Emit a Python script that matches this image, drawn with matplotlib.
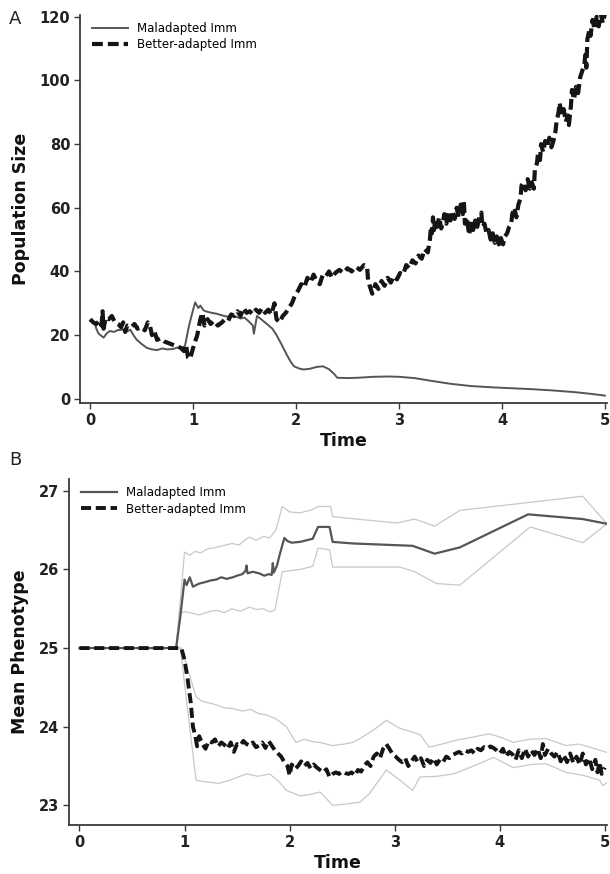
import matplotlib
matplotlib.use('Agg')
from matplotlib import pyplot as plt

# ---------------- panel A data ----------------
mal_a_t = [0.00, 0.04, 0.06, 0.08, 0.10, 0.13, 0.16, 0.19, 0.23, 0.27, 0.32, 0.36, 0.39, 0.42,
           0.45, 0.50, 0.55, 0.60, 0.65, 0.70, 0.75, 0.81, 0.86, 0.89, 0.92, 0.96, 1.00, 1.02,
           1.05, 1.07, 1.10, 1.13, 1.18, 1.23, 1.28, 1.33, 1.38, 1.46, 1.50, 1.55, 1.58, 1.59,
           1.62, 1.66, 1.72, 1.77, 1.81, 1.86, 1.91, 1.95, 1.98, 2.03, 2.07, 2.13, 2.20, 2.26,
           2.32, 2.37, 2.40, 2.50, 2.60, 2.75, 2.90, 3.00, 3.15, 3.30, 3.50, 3.70, 3.90, 4.10,
           4.30, 4.50, 4.70, 4.85, 5.00]
mal_a_y = [24.5, 24.0, 22.0, 20.5, 20.0, 19.2, 20.5, 21.3, 21.0, 21.6, 21.7, 21.2, 21.7, 20.0,
           18.6, 17.2, 16.0, 15.5, 15.3, 15.8, 15.5, 15.7, 16.2, 16.0, 16.5, 23.0, 28.0, 30.3,
           28.5, 29.3, 27.8, 27.4, 27.0, 26.7, 26.2, 25.8, 26.3, 25.2, 25.5, 24.0, 23.0, 20.4,
           26.0, 25.0, 23.4, 22.0, 20.0, 17.0, 13.8, 11.5, 10.2, 9.5, 9.2, 9.4, 10.0, 10.2,
           9.3, 7.8, 6.6, 6.5, 6.6, 6.9, 7.0, 6.9, 6.5, 5.7, 4.7, 4.0, 3.6, 3.3,
           3.0, 2.6, 2.1, 1.6, 1.0]

bet_a_t = [0.00, 0.03, 0.06, 0.09, 0.11, 0.12, 0.13, 0.15, 0.18, 0.21, 0.24, 0.27, 0.30, 0.32,
           0.34, 0.36, 0.40, 0.43, 0.46, 0.50, 0.53, 0.56, 0.58, 0.60, 0.62, 0.65, 0.68, 0.72,
           0.76, 0.80, 0.84, 0.88, 0.91, 0.93, 0.95, 0.97, 1.00, 1.04, 1.07, 1.09, 1.11, 1.14,
           1.17, 1.20, 1.24, 1.28, 1.31, 1.34, 1.37, 1.40, 1.43, 1.46, 1.49, 1.52, 1.55, 1.58,
           1.61, 1.64, 1.67, 1.70, 1.73, 1.76, 1.79, 1.81, 1.84, 1.87, 1.90, 1.93, 1.96, 1.99,
           2.02, 2.05, 2.08, 2.11, 2.14, 2.17, 2.20, 2.23, 2.26, 2.29, 2.32, 2.35, 2.38, 2.42,
           2.46, 2.50, 2.54, 2.58, 2.62, 2.66, 2.69, 2.70, 2.72, 2.74, 2.77, 2.80, 2.83, 2.86,
           2.89, 2.92, 2.95, 2.98, 3.01, 3.04, 3.07, 3.10, 3.13, 3.16, 3.19, 3.22, 3.25, 3.28,
           3.30, 3.31, 3.32, 3.33, 3.34, 3.35, 3.37, 3.39, 3.41, 3.43, 3.44, 3.46, 3.48, 3.50,
           3.52, 3.54, 3.56, 3.58, 3.60, 3.62, 3.63, 3.64, 3.66, 3.68, 3.70, 3.72, 3.74, 3.76,
           3.78, 3.80, 3.81, 3.83, 3.85, 3.87, 3.89, 3.91, 3.93, 3.95, 3.97, 3.99, 4.01, 4.03,
           4.05, 4.07, 4.09, 4.10, 4.12, 4.14, 4.16, 4.18, 4.19, 4.21, 4.23, 4.25, 4.27, 4.29,
           4.31, 4.32, 4.34, 4.35, 4.37, 4.38, 4.40, 4.42, 4.44, 4.46, 4.48, 4.50, 4.52, 4.53,
           4.55, 4.56, 4.58, 4.60, 4.62, 4.64, 4.65, 4.67, 4.68, 4.70, 4.72, 4.74, 4.76, 4.78,
           4.80, 4.81, 4.82, 4.83, 4.85, 4.86, 4.88, 4.90, 4.92, 4.94, 4.96, 4.98, 5.00]
bet_a_y = [25.0, 24.0, 23.5, 24.5, 23.0, 27.5, 22.0, 25.5, 25.0, 26.0, 24.0, 23.5, 22.5, 24.0,
           21.0, 23.0, 22.5, 23.5, 22.0, 22.5, 21.5, 24.0, 23.0, 20.0, 21.5, 18.5, 19.0, 18.0,
           17.5, 17.0, 16.5, 16.0, 15.0, 17.0, 13.0, 12.5, 16.0, 20.0, 25.0, 27.0, 23.0, 25.0,
           23.5, 24.5, 23.0, 24.0, 25.0, 24.5, 26.5, 26.0, 27.5, 26.0, 28.5, 27.0, 27.5, 26.5,
           28.0, 27.0, 28.5, 27.0, 28.0, 26.5, 30.0, 25.0, 24.0, 26.0, 27.0, 28.5, 30.0, 32.5,
           34.0, 36.0, 35.0, 38.0, 36.5, 39.0, 37.0, 36.0, 39.0, 38.5, 40.0, 38.0, 39.5, 40.5,
           39.5, 41.0, 40.0, 41.5, 40.5, 42.0, 41.5, 37.0, 35.0, 33.0, 36.0, 34.5, 37.0, 35.5,
           38.0, 36.5, 38.5, 37.5, 39.5, 39.0, 42.0, 41.0, 43.5, 42.5, 45.0, 44.0, 47.0, 46.0,
           50.0, 54.0, 52.0, 57.0, 53.0, 56.0, 54.0, 57.0, 53.5, 56.0, 58.0, 55.0, 58.5, 56.0,
           59.0, 56.5, 60.0, 57.0, 61.0, 58.0, 62.0, 55.0, 57.0, 51.5, 55.0, 53.0, 56.0, 54.0,
           57.0, 58.5, 54.0, 55.0, 52.0, 53.0, 50.0, 52.0, 49.0, 51.0, 48.5, 50.5, 48.5, 51.0,
           52.0, 54.0, 55.0, 58.0, 60.0, 57.0, 61.0, 63.0, 67.0, 68.0, 65.5, 69.0, 66.0, 68.0,
           66.0, 72.0, 74.0, 77.0, 75.0, 80.0, 77.5, 81.0, 79.0, 82.0, 79.0, 81.0, 84.0, 87.0,
           90.0, 93.0, 89.0, 91.0, 87.0, 89.0, 86.0, 92.0, 97.0, 94.0, 98.0, 96.0, 101.0, 103.0,
           105.0, 108.0, 104.0, 113.0, 116.0, 114.0, 119.0, 116.0, 120.0, 117.0, 121.0, 118.0, 121.0]

# ---------------- panel B data ----------------
mal_b_t = [0.00, 0.92, 0.96, 1.00, 1.02, 1.05, 1.08, 1.11, 1.14, 1.20, 1.25, 1.30, 1.35, 1.40,
           1.46, 1.50, 1.55, 1.58, 1.59, 1.60, 1.65, 1.71, 1.76, 1.80, 1.83, 1.84, 1.85, 1.88,
           1.90, 1.95, 1.98, 2.02, 2.10, 2.22, 2.27, 2.38, 2.41, 2.60, 3.17, 3.38, 3.62, 4.27,
           4.79, 5.02]
mal_b_y = [25.0, 25.0, 25.4, 25.87, 25.8, 25.9, 25.78, 25.8, 25.82, 25.84, 25.86, 25.87, 25.9, 25.88,
           25.9, 25.92, 25.94, 25.98, 26.05, 25.95, 25.97, 25.95, 25.92, 25.94, 25.93, 26.08, 25.96, 26.05,
           26.16, 26.4, 26.36, 26.34, 26.35, 26.39, 26.54, 26.54, 26.35, 26.33, 26.30, 26.2, 26.28, 26.7,
           26.64, 26.58]

mal_hi_t = [0.00, 0.92, 1.00, 1.05, 1.10, 1.15, 1.22, 1.30, 1.36, 1.45, 1.52, 1.58, 1.62, 1.68,
            1.75, 1.81, 1.87, 1.93, 2.00, 2.10, 2.22, 2.27, 2.39, 2.41, 3.02, 3.19, 3.38, 3.62,
            4.79, 5.02]
mal_hi_y = [25.0, 25.0, 26.22, 26.18, 26.23, 26.21, 26.26, 26.28, 26.3, 26.33, 26.31, 26.38, 26.41, 26.37,
            26.42, 26.4, 26.5, 26.8, 26.73, 26.72, 26.76, 26.8, 26.8, 26.67, 26.59, 26.64, 26.55, 26.75,
            26.93, 26.58]
mal_lo_t = [0.00, 0.92, 0.95, 1.02, 1.08, 1.14, 1.22, 1.30, 1.38, 1.45, 1.53, 1.62, 1.68, 1.75,
            1.81, 1.86, 1.93, 2.10, 2.22, 2.27, 2.38, 2.41, 3.05, 3.19, 3.40, 3.62, 4.29, 4.79,
            5.02]
mal_lo_y = [25.0, 25.0, 25.45, 25.46, 25.44, 25.42, 25.46, 25.48, 25.45, 25.5, 25.47, 25.52, 25.49, 25.5,
            25.46, 25.48, 25.97, 26.0, 26.04, 26.27, 26.25, 26.03, 26.03, 25.97, 25.82, 25.8, 26.54, 26.34,
            26.58]

bet_b_t = [0.00, 0.97, 1.00, 1.03, 1.06, 1.08, 1.10, 1.12, 1.14, 1.17, 1.20, 1.23, 1.26, 1.29,
           1.32, 1.35, 1.38, 1.41, 1.44, 1.47, 1.50, 1.53, 1.56, 1.59, 1.62, 1.65, 1.68, 1.71,
           1.74, 1.77, 1.80, 1.83, 1.86, 1.89, 1.92, 1.95, 1.98, 2.00, 2.02, 2.05, 2.08, 2.11,
           2.14, 2.17, 2.20, 2.23, 2.26, 2.29, 2.32, 2.35, 2.38, 2.41, 2.44, 2.47, 2.50, 2.53,
           2.56, 2.59, 2.62, 2.65, 2.68, 2.71, 2.74, 2.77, 2.80, 2.83, 2.86, 2.89, 2.92, 2.95,
           2.98, 3.01, 3.04, 3.07, 3.10, 3.13, 3.16, 3.19, 3.22, 3.25, 3.28, 3.31, 3.34, 3.37,
           3.40, 3.43, 3.46, 3.49, 3.52, 3.55, 3.58, 3.61, 3.64, 3.67, 3.70, 3.73, 3.76, 3.79,
           3.82, 3.85, 3.88, 3.91, 3.94, 3.97, 4.00, 4.03, 4.06, 4.09, 4.12, 4.15, 4.18, 4.21,
           4.24, 4.27, 4.30, 4.33, 4.36, 4.39, 4.41, 4.43, 4.46, 4.49, 4.52, 4.55, 4.58, 4.61,
           4.64, 4.67, 4.70, 4.73, 4.76, 4.79, 4.82, 4.85, 4.88, 4.91, 4.93, 4.95, 4.97, 5.00]
bet_b_y = [25.0, 25.0, 24.85, 24.6, 24.3, 24.0, 23.9, 23.75, 23.88, 23.78, 23.72, 23.82, 23.8, 23.84,
           23.75, 23.8, 23.77, 23.72, 23.8, 23.68, 23.78, 23.76, 23.82, 23.78, 23.76, 23.8, 23.74, 23.76,
           23.8, 23.73, 23.82, 23.76, 23.7, 23.66, 23.62, 23.55, 23.5, 23.38, 23.52, 23.46, 23.5, 23.56,
           23.5, 23.54, 23.47, 23.52, 23.48, 23.45, 23.42, 23.46, 23.36, 23.4, 23.42, 23.4, 23.43, 23.41,
           23.4, 23.42, 23.38, 23.45, 23.43, 23.5, 23.55, 23.5, 23.62, 23.66, 23.6, 23.72, 23.78, 23.72,
           23.65, 23.62, 23.58, 23.55, 23.6, 23.5, 23.56, 23.62, 23.55, 23.6, 23.5, 23.58, 23.54, 23.6,
           23.52, 23.58, 23.55, 23.62, 23.6, 23.64, 23.66, 23.68, 23.66, 23.7, 23.68, 23.7, 23.66, 23.72,
           23.7, 23.74, 23.72, 23.75, 23.73, 23.7, 23.66, 23.72, 23.62, 23.68, 23.65, 23.58, 23.7, 23.6,
           23.72, 23.62, 23.7, 23.64, 23.72, 23.6, 23.78, 23.64, 23.72, 23.66, 23.62, 23.68, 23.56, 23.64,
           23.55, 23.66, 23.54, 23.62, 23.52, 23.66, 23.52, 23.6, 23.46, 23.58, 23.42, 23.55, 23.4, 23.48]

bet_hi_t = [0.00, 0.97, 1.11, 1.16, 1.21, 1.30, 1.38, 1.46, 1.55, 1.63, 1.70, 1.78, 1.87, 1.97,
            2.06, 2.14, 2.22, 2.29, 2.41, 2.52, 2.60, 2.67, 2.80, 2.92, 3.05, 3.15, 3.24, 3.33,
            3.45, 3.59, 3.75, 3.90, 4.02, 4.13, 4.28, 4.44, 4.63, 4.75, 4.86, 5.05]
bet_hi_y = [25.0, 25.0, 24.38, 24.33, 24.31, 24.28, 24.24, 24.23, 24.2, 24.22, 24.17, 24.15, 24.1, 24.0,
            23.8, 23.84, 23.81, 23.8, 23.76, 23.78, 23.8, 23.85, 23.96, 24.08, 23.98, 23.94, 23.9, 23.74,
            23.78, 23.83, 23.87, 23.91, 23.86, 23.8, 23.84, 23.85, 23.76, 23.78, 23.74, 23.66]
bet_lo_t = [0.00, 0.96, 1.11, 1.20, 1.33, 1.45, 1.59, 1.70, 1.81, 1.90, 1.97, 2.10, 2.20, 2.29,
            2.41, 2.55, 2.67, 2.76, 2.92, 3.05, 3.17, 3.24, 3.40, 3.56, 3.75, 3.94, 4.13, 4.30,
            4.44, 4.63, 4.80, 4.95, 4.98, 5.05]
bet_lo_y = [25.0, 25.0, 23.32, 23.3, 23.28, 23.33, 23.4, 23.37, 23.4, 23.3, 23.19, 23.12, 23.14, 23.17,
            23.0, 23.02, 23.04, 23.15, 23.45, 23.32, 23.19, 23.36, 23.37, 23.4, 23.5, 23.61, 23.48, 23.52,
            23.53, 23.42, 23.38, 23.32, 23.25, 23.32]

labels = ['Maladapted Imm', 'Better-adapted Imm']
x_ticks = [0, 1, 2, 3, 4, 5]

MAL = '#555555'
BET = '#151515'
BAND = '#c8c8c8'
SPINE = '#3a3a3a'


def style_axes(ax):
    for s in ['top', 'right']:
        ax.spines[s].set_visible(False)
    for s in ['left', 'bottom']:
        ax.spines[s].set_color(SPINE)
        ax.spines[s].set_linewidth(1.3)
    ax.tick_params(direction='out', length=4, width=1, color=SPINE, labelsize=10.5, pad=3)
    for lab in ax.get_xticklabels() + ax.get_yticklabels():
        lab.set_fontweight('bold')
        lab.set_color('#222222')
    ax.set_xlabel('Time', fontsize=12.5, fontweight='heavy', color='#111111', labelpad=3)
    ax.legend(loc='upper left', frameon=False, fontsize=8.5, handlelength=3.0,
              bbox_to_anchor=(0.01, 1.0), borderaxespad=0.2, labelspacing=0.3)


fig = plt.figure(figsize=(6.1, 8.74), dpi=100)

# ---- A ----
ax1 = fig.add_axes([0.131, 0.539, 0.864, 0.444])
ax1.plot(mal_a_t, mal_a_y, color=MAL, lw=1.4, label=labels[0])
ax1.plot(bet_a_t, bet_a_y, color=BET, lw=3.0, dashes=(2.6, 1.2), label=labels[1])
ax1.set_xlim(-0.1, 5.02)
ax1.set_ylim(-1.3, 120.6)
ax1.set_xticks(x_ticks)
ax1.set_yticks([0, 20, 40, 60, 80, 100, 120])
ax1.set_ylabel('Population Size', fontsize=12.5, fontweight='heavy', color='#111111', labelpad=7)
style_axes(ax1)
fig.text(0.015, 0.978, 'A', fontsize=13, va='center', color='#222222')

# ---- B ----
ax2 = fig.add_axes([0.113, 0.056, 0.882, 0.396])
ax2.plot(mal_hi_t, mal_hi_y, color=BAND, lw=0.9)
ax2.plot(mal_lo_t, mal_lo_y, color=BAND, lw=0.9)
ax2.plot(bet_hi_t, bet_hi_y, color=BAND, lw=0.9)
ax2.plot(bet_lo_t, bet_lo_y, color=BAND, lw=0.9)
ax2.plot(mal_b_t, mal_b_y, color=MAL, lw=1.6, label=labels[0])
ax2.plot(bet_b_t, bet_b_y, color=BET, lw=2.8, dashes=(2.6, 1.2), label=labels[1])
ax2.set_xlim(-0.1, 5.02)
ax2.set_ylim(22.75, 27.15)
ax2.set_xticks(x_ticks)
ax2.set_yticks([23, 24, 25, 26, 27])
ax2.set_ylabel('Mean Phenotype', fontsize=12.5, fontweight='heavy', color='#111111', labelpad=7)
style_axes(ax2)
fig.text(0.015, 0.474, 'B', fontsize=13, va='center', color='#222222')

plt.savefig('out.png', dpi=100)
